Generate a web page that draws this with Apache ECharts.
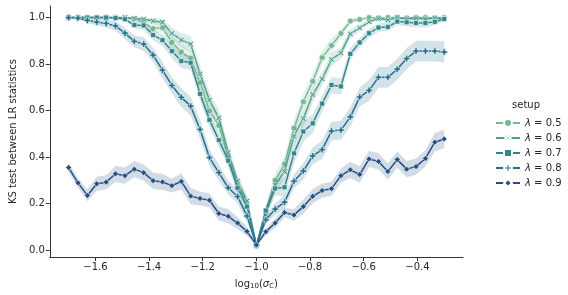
<!DOCTYPE html>
<html><head><meta charset="utf-8">
<script src="https://cdn.jsdelivr.net/npm/echarts@6/dist/echarts.min.js"></script>
<style>html,body{margin:0;padding:0;background:#fff}#c{width:568px;height:295px}</style>
</head><body><div id="c"></div>
<script>
// x values: log10(sigma_C)
const xs = [-1.7,-1.665,-1.63,-1.595,-1.56,-1.525,-1.49,-1.455,-1.42,-1.385,
  -1.35,-1.315,-1.28,-1.245,-1.21,-1.175,-1.14,-1.105,-1.07,-1.035,
  -1.0,-0.965,-0.93,-0.895,-0.86,-0.825,-0.79,-0.755,-0.72,-0.685,
  -0.65,-0.615,-0.58,-0.545,-0.51,-0.475,-0.44,-0.405,-0.37,-0.335,-0.3];

const lam05 = [1.0,1.0,1.0,1.0,1.0,1.0,0.998,0.994,0.98,0.953,
  0.956,0.894,0.852,0.825,0.72,0.598,0.536,0.40,0.28,0.20,
  0.02,0.17,0.30,0.37,0.525,0.638,0.726,0.828,0.88,0.932,
  0.985,0.992,1.0,0.998,1.0,1.0,0.998,1.0,1.0,0.998,1.0];
const lam06 = [1.0,1.0,1.0,1.0,1.0,1.0,1.0,0.997,0.993,0.985,
  0.98,0.932,0.904,0.886,0.758,0.645,0.569,0.42,0.296,0.211,
  0.02,0.15,0.28,0.338,0.49,0.566,0.669,0.736,0.82,0.848,
  0.93,0.956,0.982,0.996,0.99,1.0,0.995,0.998,0.995,0.998,0.995];
const lam07 = [1.0,1.0,1.0,1.0,1.0,0.998,0.993,0.968,0.966,0.925,
  0.903,0.856,0.813,0.806,0.672,0.56,0.473,0.385,0.268,0.187,
  0.02,0.17,0.265,0.27,0.416,0.51,0.545,0.63,0.71,0.704,
  0.844,0.893,0.933,0.957,0.96,0.983,0.98,0.977,0.977,0.982,0.994];
const lam08 = [1.0,0.998,0.988,0.981,0.975,0.964,0.933,0.898,0.886,0.839,
  0.774,0.708,0.657,0.619,0.519,0.398,0.333,0.268,0.23,0.146,
  0.02,0.13,0.176,0.206,0.296,0.34,0.405,0.432,0.512,0.516,
  0.573,0.658,0.687,0.743,0.743,0.778,0.824,0.856,0.856,0.856,0.852];
const lam09 = [0.355,0.289,0.235,0.285,0.292,0.328,0.32,0.348,0.333,0.298,
  0.293,0.277,0.295,0.232,0.222,0.214,0.157,0.145,0.116,0.08,
  0.022,0.079,0.116,0.161,0.151,0.187,0.231,0.256,0.264,0.32,
  0.345,0.325,0.392,0.381,0.338,0.389,0.348,0.359,0.394,0.464,0.478];

// confidence-band half widths (read from the shaded areas)
const ci05 = [0,0,0,0,0,0,0.003,0.006,0.012,0.02,
  0.02,0.03,0.03,0.03,0.035,0.035,0.035,0.03,0.03,0.025,
  0.005,0.025,0.03,0.035,0.035,0.035,0.035,0.03,0.03,0.02,
  0.01,0.008,0,0.003,0,0,0.003,0,0,0.003,0];
const ci06 = [0,0,0,0,0,0,0,0.005,0.008,0.012,
  0.015,0.025,0.03,0.035,0.035,0.035,0.035,0.03,0.03,0.025,
  0.005,0.025,0.03,0.03,0.035,0.035,0.035,0.03,0.03,0.025,
  0.02,0.015,0.01,0.005,0.008,0.003,0.005,0.005,0.005,0.005,0.005];
const ci07 = [0,0,0,0,0,0.003,0.008,0.015,0.018,0.022,
  0.025,0.03,0.03,0.03,0.03,0.03,0.03,0.03,0.025,0.02,
  0.005,0.02,0.03,0.04,0.045,0.045,0.04,0.035,0.035,0.035,
  0.025,0.02,0.02,0.018,0.018,0.015,0.018,0.02,0.02,0.015,0.01];
const ci08 = [0.002,0.005,0.01,0.015,0.018,0.02,0.025,0.025,0.03,0.03,
  0.035,0.035,0.04,0.04,0.04,0.035,0.035,0.03,0.03,0.025,
  0.005,0.02,0.025,0.03,0.03,0.035,0.035,0.04,0.04,0.04,
  0.04,0.04,0.045,0.045,0.045,0.045,0.045,0.045,0.045,0.045,0.045];
const ci09 = [0.02,0.02,0.025,0.03,0.03,0.035,0.035,0.035,0.035,0.035,
  0.035,0.03,0.035,0.035,0.03,0.03,0.03,0.03,0.025,0.02,
  0.005,0.015,0.02,0.02,0.025,0.03,0.03,0.03,0.03,0.03,
  0.035,0.035,0.035,0.035,0.035,0.035,0.035,0.035,0.035,0.04,0.04];

const setupLabels = ['0.5','0.6','0.7','0.8','0.9'];
const xTicks = [-1.6,-1.4,-1.2,-1.0,-0.8,-0.6,-0.4];
const yTicks = [0.0,0.2,0.4,0.6,0.8,1.0];

const values = [lam05, lam06, lam07, lam08, lam09];
const cis = [ci05, ci06, ci07, ci08, ci09];
const colors = ['#78b791','#51a08f','#34858d','#236e8a','#234f81'];
const symbols = [
  'circle',
  'path://M-1,-0.6 L-0.6,-1 L0,-0.4 L0.6,-1 L1,-0.6 L0.4,0 L1,0.6 L0.6,1 L0,0.4 L-0.6,1 L-1,0.6 L-0.4,0 Z',
  'rect',
  'path://M-0.35,-1 L0.35,-1 L0.35,-0.35 L1,-0.35 L1,0.35 L0.35,0.35 L0.35,1 L-0.35,1 L-0.35,0.35 L-1,0.35 L-1,-0.35 L-0.35,-0.35 Z',
  'diamond'
];
const symSizes = [6, 6, 5, 6.5, 6];
const FONT = 'DejaVu Sans';
const TXT = '#262626';

const series = [];
values.forEach((vals, k) => {
  const ci = cis[k];
  const color = colors[k];
  series.push({
    type: 'custom', silent: true, z: 2 + k * 2,
    data: xs.map((x, i) => [x, Math.max(0, vals[i] - ci[i]), Math.min(1, vals[i] + ci[i])]),
    encode: { x: 0, y: [1, 2] },
    renderItem(params, api) {
      if (params.dataIndex !== 0) return;
      const up = [], lo = [];
      for (let i = 0; i < xs.length; i++) {
        up.push(api.coord([xs[i], Math.min(1, vals[i] + ci[i])]));
        lo.push(api.coord([xs[i], Math.max(0, vals[i] - ci[i])]));
      }
      return { type: 'polygon', shape: { points: up.concat(lo.reverse()) },
        style: { fill: color, opacity: 0.2 } };
    }
  });
  series.push({
    type: 'line', name: 'λ = ' + setupLabels[k], z: 3 + k * 2,
    data: xs.map((x, i) => [x, vals[i]]),
    symbol: symbols[k], symbolSize: symSizes[k], showSymbol: true, showAllSymbol: true,
    lineStyle: { width: 1.5, color: color },
    itemStyle: { color: color, borderColor: '#ffffff', borderWidth: 0.6 },
    emphasis: { disabled: true }
  });
});

const chart = echarts.init(document.getElementById('c'), null, { renderer: 'canvas' });
chart.setOption({
  animation: false,
  backgroundColor: '#ffffff',
  textStyle: { fontFamily: FONT },
  grid: { left: 49, right: 105, top: 6, bottom: 35 },
  xAxis: {
    type: 'value', min: -1.77, max: -0.23,
    name: '{n|log}{s|10}{n|(}{i|σ}{si|C}{n|)}',
    nameLocation: 'middle', nameGap: 21,
    nameTextStyle: { rich: {
      n: { fontSize: 10, color: TXT, fontFamily: FONT },
      i: { fontSize: 10, color: TXT, fontFamily: FONT, fontStyle: 'italic' },
      s: { fontSize: 7, color: TXT, fontFamily: FONT, verticalAlign: 'bottom', padding: [5, 0, 0, 0] },
      si: { fontSize: 7, color: TXT, fontFamily: FONT, fontStyle: 'italic', verticalAlign: 'bottom', padding: [5, 0, 0, 0] }
    } },
    axisLine: { onZero: false, lineStyle: { color: '#333333', width: 1 } },
    axisTick: { show: true, length: 4, customValues: xTicks, lineStyle: { color: '#333333' } },
    axisLabel: { customValues: xTicks, fontSize: 10, color: TXT, margin: 5,
      formatter: v => (v < 0 ? '\u2212' : '') + Math.abs(v).toFixed(1) },
    splitLine: { show: false }
  },
  yAxis: {
    type: 'value', min: -0.03, max: 1.05,
    name: 'KS test between LR statistics',
    nameLocation: 'middle', nameGap: 27, nameRotate: 90,
    nameTextStyle: { fontSize: 10, color: TXT, fontFamily: FONT },
    axisLine: { show: true, onZero: false, lineStyle: { color: '#333333', width: 1 } },
    axisTick: { show: true, length: 4, customValues: yTicks, lineStyle: { color: '#333333' } },
    axisLabel: { customValues: yTicks, fontSize: 10, color: TXT, margin: 5,
      formatter: v => v.toFixed(1) },
    splitLine: { show: false }
  },
  legend: {
    orient: 'vertical', left: 490, top: 113,
    itemWidth: 24, itemHeight: 10, itemGap: 5,
    data: setupLabels.map(l => 'λ = ' + l),
    formatter: name => '{i|λ}{n|' + name.slice(1) + '}',
    textStyle: { fontSize: 10, color: TXT, fontFamily: FONT, rich: {
      i: { fontSize: 10, fontStyle: 'italic', color: TXT, fontFamily: FONT },
      n: { fontSize: 10, color: TXT, fontFamily: FONT }
    } }
  },
  graphic: [{
    type: 'text', x: 526, y: 105,
    style: { text: 'setup', fontSize: 10, fill: TXT, fontFamily: FONT, align: 'center', verticalAlign: 'middle' }
  }],
  series: series
});
</script>
</body></html>
